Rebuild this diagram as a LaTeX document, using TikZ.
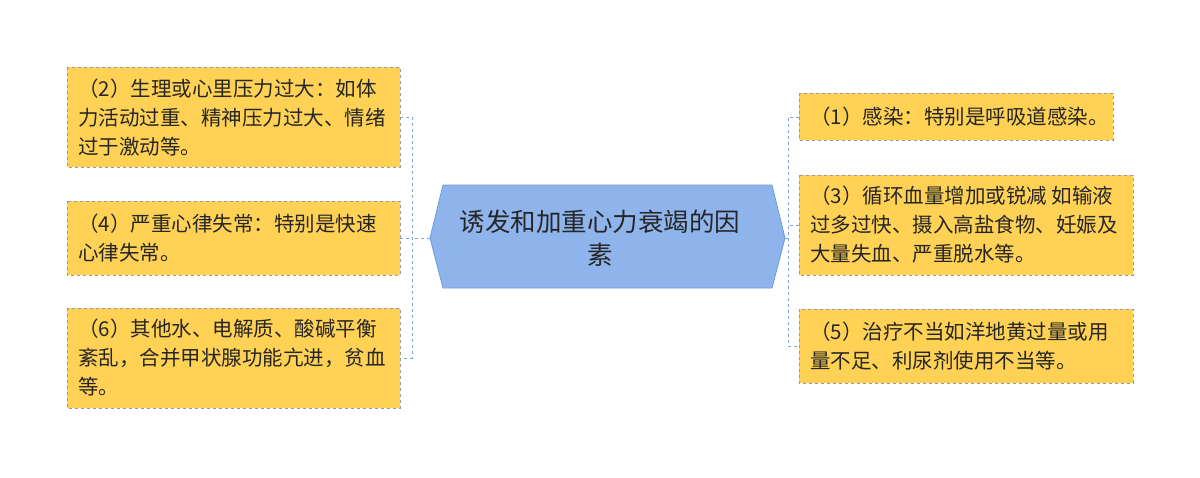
\documentclass[tikz,border=0pt]{standalone}
\usepackage{fontspec}
\setmainfont{Noto Sans CJK SC}
\begin{document}
\begin{tikzpicture}[x=1pt,y=-1pt,
 box/.style={draw=gray!80,dashed,fill=yel,line width=0.8pt},
 txt/.style={anchor=west,align=left,font=\fontsize{20.5}{29}\selectfont,inner sep=0pt,text=black!85},
 con/.style={draw=lnk,dashed,line width=0.9pt}]
\definecolor{yel}{HTML}{FFD154}
\definecolor{lnk}{HTML}{7FA4DC}
\definecolor{cfill}{HTML}{8FB4EC}
\definecolor{cline}{HTML}{6C9BE0}
\useasboundingbox (0,0) rectangle (1200,477);
\fill[white] (0,0) rectangle (1200,477);
% center
\draw[fill=cfill,draw=cline,line width=0.8pt] (430,238) -- (443,185) -- (772,185) -- (785,238) -- (772,288) -- (443,288) -- cycle;
\node[align=center,font=\fontsize{25.5}{33}\selectfont,text=black!85,inner sep=0pt] (c) at (600,238) {诱发和加重心力衰竭的因\\素};
\coordinate (cl) at (430,238);
\coordinate (cr) at (785,238);
% left boxes
\draw[box] (67,67) rectangle (400,167); \coordinate (l1) at (400,117);
\node[txt] (t1) at (78,118) {（2）生理或心里压力过大：如体\\力活动过重、精神压力过大、情绪\\过于激动等。};
\draw[box] (67,201) rectangle (400,275); \coordinate (l2) at (400,238);
\node[txt] (t2) at (78,238) {（4）严重心律失常：特别是快速\\心律失常。};
\draw[box] (67,308) rectangle (400,408); \coordinate (l3) at (400,358);
\node[txt] (t3) at (78,358) {（6）其他水、电解质、酸碱平衡\\紊乱，合并甲状腺功能亢进，贫血\\等。};
% right boxes
\draw[box] (799,93) rectangle (1113,140); \coordinate (r1) at (799,117);
\node[txt] (t4) at (810,117) {（1）感染：特别是呼吸道感染。};
\draw[box] (799,175) rectangle (1133,275); \coordinate (r2) at (799,225);
\node[txt] (t5) at (810,225) {（3）循环血量增加或锐减 如输液\\过多过快、摄入高盐食物、妊娠及\\大量失血、严重脱水等。};
\draw[box] (799,309) rectangle (1133,383); \coordinate (r3) at (799,346);
\node[txt] (t6) at (810,346) {（5）治疗不当如洋地黄过量或用\\量不足、利尿剂使用不当等。};
% connectors
\draw[con] (cl) -- (412,238);
\draw[con] (l1) -- (412,117) -- (412,358) -- (l3);
\draw[con] (l2) -- (412,238);
\draw[con] (cr) -- (788,238);
\draw[con] (r1) -- (788,117) -- (788,346) -- (r3);
\draw[con] (r2) -- (788,225);
\end{tikzpicture}
\end{document}
